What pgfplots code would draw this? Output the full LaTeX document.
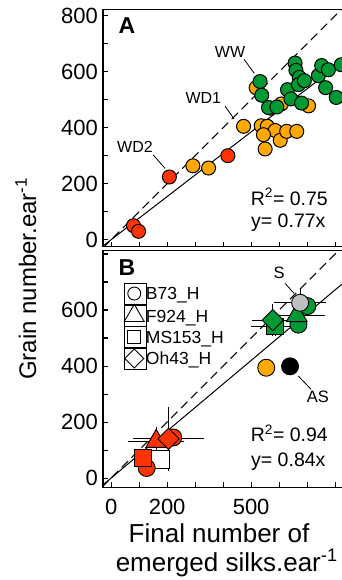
\documentclass[border=0pt]{standalone}
\usepackage{pgfplots}
\pgfplotsset{compat=1.18}
\usepackage{fontspec}
\setmainfont{Liberation Sans}
\definecolor{cgreen}{RGB}{0,153,51}
\definecolor{corange}{RGB}{255,168,0}
\definecolor{cred}{RGB}{255,51,0}
\definecolor{cgrey}{RGB}{192,192,192}
\pgfplotsset{
 panel/.style={scale only axis, width=239.4pt, xmin=-29, xmax=826,
   axis line style={line width=1.4pt}, tick align=inside, xtick pos=bottom, ytick pos=left,
   major tick length=5pt, tick style={line width=1.1pt, black},
   xtick={0,100,...,800}, ytick={0,100,...,800},
   /pgf/number format/assume math mode=true,
   tick label style={font=\fontsize{22}{22}\selectfont},
   yticklabel style={inner sep=0pt, xshift=-5pt},
   xticklabel style={inner sep=0pt, yshift=-11.5pt}},
 eb/.style={error bars/.cd, x dir=both, x explicit, y dir=both, y explicit,
   error bar style={line width=1pt, black}, error mark=none}
}
\begin{document}
\begin{tikzpicture}
% ---------------- Panel A ----------------
\begin{axis}[panel, at={(103pt,-246.7pt)}, anchor=south west, height=237.4pt,
  ymin=-25, ymax=823, xticklabels={,,,,,,,,}, yticklabels={0,,200,,400,,600,,800}]
\addplot[black, line width=1pt, dash pattern=on 9pt off 5pt] coordinates {(-29,-29) (830,830)};
\addplot[black, line width=1pt] coordinates {(-29,-22.33) (830,639.1)};
\addplot[only marks, mark=*, mark size=7pt, mark options={draw=black, fill=corange, line width=1pt}] coordinates {
(292,264) (348,256) (473,405) (536,407) (558,405) (586,390) (544,375) (604,355)
(627,387) (550,324) (663,387) (518,543) (608,485) (705,478) (570,470)};
\addplot[only marks, mark=*, mark size=7pt, mark options={draw=black, fill=cred, line width=1pt}] coordinates {
(80,50) (98,30) (208,224) (417,300)};
\addplot[only marks, mark=*, mark size=7pt, mark options={draw=black, fill=cgreen, line width=1pt}] coordinates {
(532,565) (538,516) (562,472) (592,474) (630,536) (642,503) (657,631) (660,605)
(672,580) (669,554) (690,568) (680,488) (740,586) (752,622) (776,607) (766,543)
(804,508) (822,625)};
\end{axis}
% ---------------- Panel B ----------------
\begin{axis}[panel, at={(103pt,-487.3pt)}, anchor=south west, height=236.9pt,
  ymin=-33, ymax=813, xticklabels={0,,200,,,500,,,}, yticklabels={0,,200,,400,,600,,},
  legend style={at={(0.088,0.863)}, anchor=north west, draw=none, fill=none,
    inner sep=0pt, outer sep=0pt, row sep=0pt, column sep=0pt,
    font=\fontsize{17.5}{17.5}\selectfont,
    nodes={inner sep=0pt, text height=12.5pt, text depth=0pt}},
  legend cell align=left,
  legend image code/.code={\draw[#1] plot coordinates {(0pt,0pt)}; \path (-10pt,-10.5pt) rectangle (11.5pt,10.5pt);}]
\addlegendimage{only marks, mark=*, mark size=6.5pt, mark options={draw=black, fill=white, line width=0.9pt}}
\addlegendentry{B73\_H}
\addlegendimage{only marks, mark=triangle*, mark size=11.5pt, mark options={draw=black, fill=white, line width=0.9pt}}
\addlegendentry{F924\_H}
\addlegendimage{only marks, mark=square*, mark size=6.5pt, mark options={draw=black, fill=white, line width=0.9pt}}
\addlegendentry{MS153\_H}
\addlegendimage{only marks, mark=square*, mark size=6.7pt, mark options={rotate=45, draw=black, fill=white, line width=0.9pt}}
\addlegendentry{Oh43\_H}
\addplot[forget plot, black, line width=1pt, dash pattern=on 9pt off 5pt] coordinates {(-33,-33) (830,830)};
\addplot[forget plot, black, line width=1pt] coordinates {(-33,-27.72) (830,697.2)};
% low group
\addplot[forget plot, only marks, mark=square*, mark size=9pt, mark options={draw=black, fill=white, line width=0.9pt}] coordinates {(177,66)};
\addplot[forget plot, only marks, mark=*, mark size=8.5pt, mark options={draw=black, fill=cred, line width=0.9pt}] coordinates {(127,36) (222,145)};
\addplot[forget plot, only marks, mark=square*, mark size=8.3pt, mark options={draw=black, fill=cred, line width=0.9pt}, eb] coordinates {(113,72) +- (30,25)};
\addplot[forget plot, only marks, mark=triangle*, mark size=12pt, mark options={draw=black, fill=cred, line width=0.9pt}, eb] coordinates {(161,131) +- (100,50)};
\addplot[forget plot, only marks, mark=square*, mark size=7.5pt, mark options={rotate=45, draw=black, fill=cred, line width=0.9pt}, eb] coordinates {(205,140) +- (128,115)};
% high group
\addplot[forget plot, only marks, mark=*, mark size=8.5pt, mark options={draw=black, fill=cgreen, line width=0.9pt}] coordinates {(701,614)};
\addplot[forget plot, only marks, mark=square*, mark size=8.3pt, mark options={draw=black, fill=cgreen, line width=0.9pt}, eb] coordinates {(586,542) +- (85,36)};
\addplot[forget plot, only marks, mark=square*, mark size=7.5pt, mark options={rotate=45, draw=black, fill=cgreen, line width=0.9pt}, eb] coordinates {(577,564) +- (75,57)};
\addplot[forget plot, only marks, mark=*, mark size=8.5pt, mark options={draw=black, fill=cgreen, line width=0.9pt}] coordinates {(669,548)};
\addplot[forget plot, only marks, mark=triangle*, mark size=12pt, mark options={draw=black, fill=cgreen, line width=0.9pt}, eb] coordinates {(663,580) +- (100,40)};
\addplot[forget plot, only marks, mark=*, mark size=8.5pt, mark options={draw=black, fill=cgrey, line width=0.9pt}, eb] coordinates {(675,626) +- (92,52)};
\addplot[forget plot, only marks, mark=*, mark size=8.5pt, mark options={draw=black, fill=corange, line width=0.9pt}] coordinates {(554,394)};
\addplot[forget plot, only marks, mark=*, mark size=8.5pt, mark options={draw=black, fill=black, line width=0.9pt}] coordinates {(639,399)};
\end{axis}
% ---------------- annotations ----------------
\node[font=\fontsize{23}{23}\selectfont\bfseries, anchor=base west, inner sep=0pt] at (118.3pt,-33.3pt) {A};
\node[font=\fontsize{23}{23}\selectfont\bfseries, anchor=base west, inner sep=0pt] at (118.3pt,-275pt) {B};
\node[font=\fontsize{16}{16}\selectfont, inner sep=0pt] at (230pt,-51.7pt) {WW};
\node[font=\fontsize{16}{16}\selectfont, inner sep=0pt] at (203.3pt,-98.3pt) {WD1};
\node[font=\fontsize{16}{16}\selectfont, inner sep=0pt] at (135pt,-146.7pt) {WD2};
\draw[line width=0.8pt] (244pt,-59.3pt) -- (254.3pt,-73.3pt);
\draw[line width=0.8pt] (225pt,-106pt) -- (234pt,-119pt);
\draw[line width=0.8pt] (153.3pt,-155pt) -- (165pt,-168.3pt);
\node[font=\fontsize{19.5}{19.5}\selectfont, anchor=base west, inner sep=0pt] at (250.7pt,-205pt) {R\textsuperscript{2}= 0.75};
\node[font=\fontsize{19.5}{19.5}\selectfont, anchor=base west, inner sep=0pt] at (251pt,-227pt) {y= 0.77x};
\node[font=\fontsize{19.5}{19.5}\selectfont, anchor=base west, inner sep=0pt] at (250.7pt,-441.7pt) {R\textsuperscript{2}= 0.94};
\node[font=\fontsize{19.5}{19.5}\selectfont, anchor=base west, inner sep=0pt] at (251pt,-466.7pt) {y= 0.84x};
\node[font=\fontsize{16.5}{16.5}\selectfont, inner sep=0pt] at (279pt,-273.3pt) {S};
\draw[line width=0.8pt] (285pt,-283.3pt) -- (294pt,-293.3pt);
\node[font=\fontsize{16.5}{16.5}\selectfont, inner sep=0pt] at (317.8pt,-397.2pt) {AS};
\draw[line width=0.8pt] (298.3pt,-376pt) -- (311pt,-389.3pt);
\node[rotate=90, anchor=base west, inner sep=0pt, font=\fontsize{24}{24}\selectfont] at (36pt,-380pt) {Grain number.ear\textsuperscript{-1}};
\node[anchor=base, inner sep=0pt, font=\fontsize{26}{26}\selectfont] at (219pt,-542pt) {Final number of};
\node[anchor=base, inner sep=0pt, font=\fontsize{26}{26}\selectfont] at (226.7pt,-571pt) {emerged silks.ear\textsuperscript{-1}};
\pgfresetboundingbox
\useasboundingbox (0pt,0pt) rectangle (341pt,-580pt);
\end{tikzpicture}
\end{document}
